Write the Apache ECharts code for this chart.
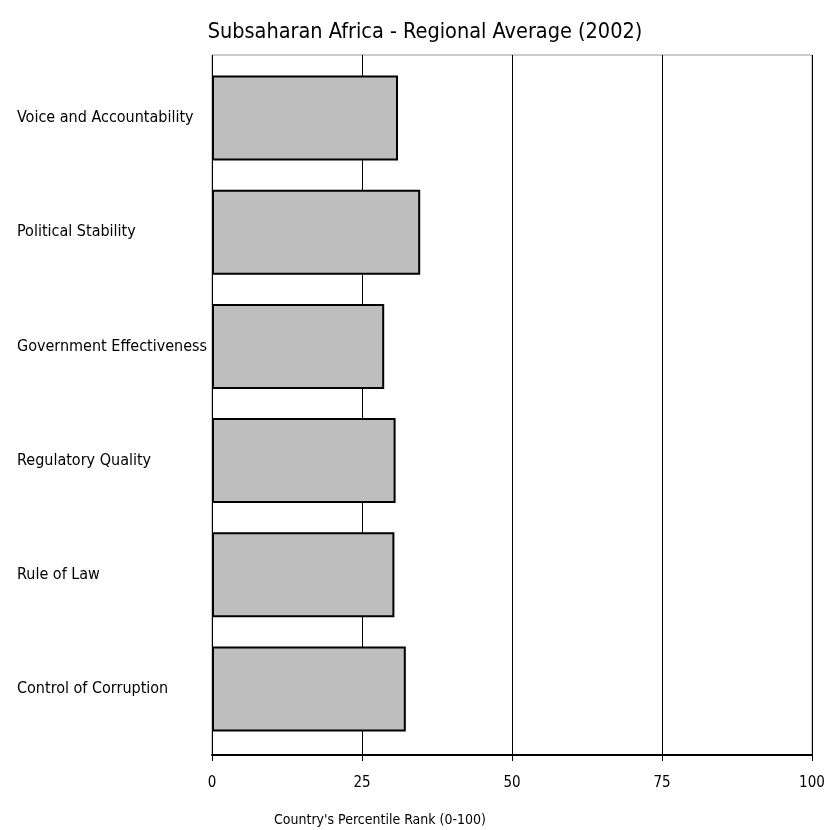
<!DOCTYPE html>
<html>
<head>
<meta charset="utf-8">
<script src="https://cdn.jsdelivr.net/npm/echarts@6/dist/echarts.min.js"></script>
<style>html,body{margin:0;padding:0;background:#fff;overflow:hidden;}#c{width:825px;height:830px;}</style>
</head>
<body>
<div id="c"></div>
<script>
const categories = ["Voice and Accountability","Political Stability","Government Effectiveness","Regulatory Quality","Rule of Law","Control of Corruption"];
const values = [31.0, 34.7, 28.7, 30.6, 30.4, 32.3];
const xTicks = [0, 25, 50, 75, 100];
const titleText = "Subsaharan Africa - Regional Average (2002)";
const xAxisTitle = "Country's Percentile Rank (0-100)";

const FONT = "'DejaVu Sans Condensed', sans-serif";
const chart = echarts.init(document.getElementById('c'), null, {renderer: 'canvas'});
chart.setOption({
  animation: false,
  backgroundColor: '#ffffff',
  title: [
    {text: titleText, left: 420, textAlign: 'center', top: 16,
     textStyle: {fontFamily: FONT, fontSize: 21.5, fontWeight: 'normal', color: '#000'}},
    {text: xAxisTitle, left: 375, textAlign: 'center', top: 808,
     textStyle: {fontFamily: FONT, fontSize: 14, fontWeight: 'normal', color: '#000'}}
  ],
  grid: [
    {left: 212, right: 13, top: 55, bottom: 75, show: true, borderColor: '#999', borderWidth: 1,
     backgroundColor: 'transparent', containLabel: false, outerBoundsMode: 'none'},
    {left: 212, right: 13, top: 61, height: 685, containLabel: false, outerBoundsMode: 'none'}
  ],
  xAxis: [
    {gridIndex: 0, type: 'value', min: 0, max: 100, interval: 25,
     axisLine: {show: true, lineStyle: {color: '#000', width: 2}},
     axisTick: {show: true, length: 6, lineStyle: {color: '#000', width: 1}},
     axisLabel: {margin: 21, fontFamily: FONT, fontSize: 15, color: '#000', hideOverlap: false,
       formatter: v => xTicks.includes(v) ? String(v) : ''},
     splitLine: {show: true, lineStyle: {color: '#000', width: 1}}},
    {gridIndex: 1, type: 'value', min: 0, max: 100, show: false}
  ],
  yAxis: [
    {gridIndex: 0, type: 'value', show: false, min: 0, max: 1, splitLine: {show: false}},
    {gridIndex: 1, type: 'category', data: categories, inverse: true,
     axisLine: {show: false}, axisTick: {show: false}, splitLine: {show: false},
     axisLabel: {align: 'left', margin: 195, fontFamily: FONT, fontSize: 16, color: '#000',
       overflow: 'none'}}
  ],
  series: [{
    type: 'bar', xAxisIndex: 1, yAxisIndex: 1, data: values, barWidth: 85,
    itemStyle: {color: '#bebebe', borderColor: '#000', borderWidth: 2}
  }]
});
</script>
</body>
</html>
